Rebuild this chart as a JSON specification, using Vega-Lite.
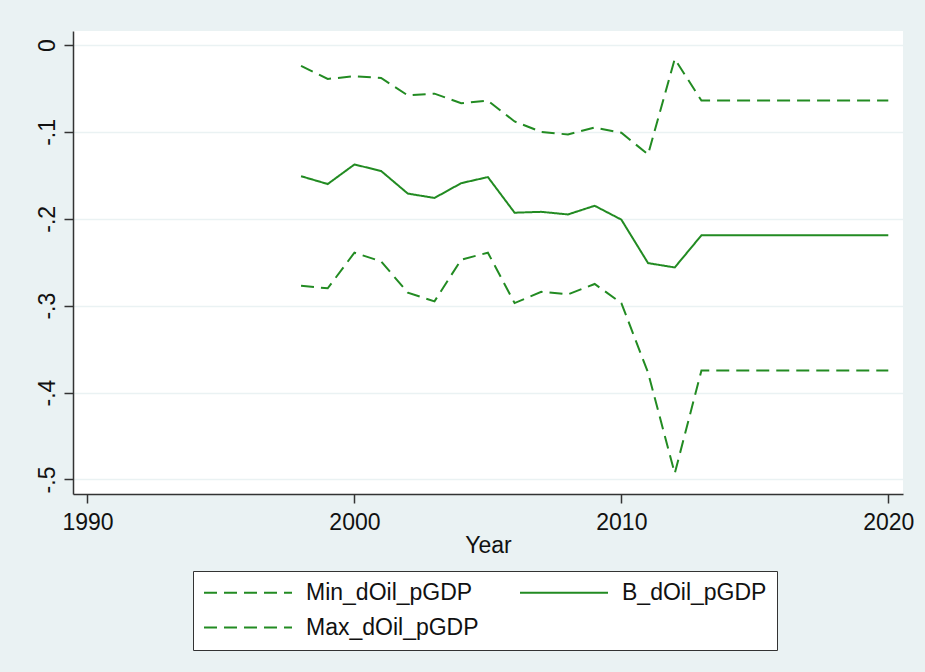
{
  "$schema": "https://vega.github.io/schema/vega-lite/v6.json",
  "width": 830,
  "height": 463,
  "autosize": {"type": "none"},
  "padding": {"left": 73, "top": 31, "right": 22, "bottom": 178},
  "background": "#EAF2F3",
  "config": {
    "view": {"fill": "white", "stroke": null},
    "font": "Liberation Sans, Arial, sans-serif"
  },
  "data": {
    "values": [
      {"year": 1998, "series": "Max_dOil_pGDP", "value": -0.024},
      {"year": 1999, "series": "Max_dOil_pGDP", "value": -0.039},
      {"year": 2000, "series": "Max_dOil_pGDP", "value": -0.036},
      {"year": 2001, "series": "Max_dOil_pGDP", "value": -0.038},
      {"year": 2002, "series": "Max_dOil_pGDP", "value": -0.058},
      {"year": 2003, "series": "Max_dOil_pGDP", "value": -0.056},
      {"year": 2004, "series": "Max_dOil_pGDP", "value": -0.067},
      {"year": 2005, "series": "Max_dOil_pGDP", "value": -0.064},
      {"year": 2006, "series": "Max_dOil_pGDP", "value": -0.088},
      {"year": 2007, "series": "Max_dOil_pGDP", "value": -0.100},
      {"year": 2008, "series": "Max_dOil_pGDP", "value": -0.103},
      {"year": 2009, "series": "Max_dOil_pGDP", "value": -0.095},
      {"year": 2010, "series": "Max_dOil_pGDP", "value": -0.101},
      {"year": 2011, "series": "Max_dOil_pGDP", "value": -0.126},
      {"year": 2012, "series": "Max_dOil_pGDP", "value": -0.016},
      {"year": 2013, "series": "Max_dOil_pGDP", "value": -0.064},
      {"year": 2014, "series": "Max_dOil_pGDP", "value": -0.064},
      {"year": 2015, "series": "Max_dOil_pGDP", "value": -0.064},
      {"year": 2016, "series": "Max_dOil_pGDP", "value": -0.064},
      {"year": 2017, "series": "Max_dOil_pGDP", "value": -0.064},
      {"year": 2018, "series": "Max_dOil_pGDP", "value": -0.064},
      {"year": 2019, "series": "Max_dOil_pGDP", "value": -0.064},
      {"year": 2020, "series": "Max_dOil_pGDP", "value": -0.064},
      {"year": 1998, "series": "B_dOil_pGDP", "value": -0.151},
      {"year": 1999, "series": "B_dOil_pGDP", "value": -0.160},
      {"year": 2000, "series": "B_dOil_pGDP", "value": -0.1375},
      {"year": 2001, "series": "B_dOil_pGDP", "value": -0.145},
      {"year": 2002, "series": "B_dOil_pGDP", "value": -0.171},
      {"year": 2003, "series": "B_dOil_pGDP", "value": -0.176},
      {"year": 2004, "series": "B_dOil_pGDP", "value": -0.159},
      {"year": 2005, "series": "B_dOil_pGDP", "value": -0.152},
      {"year": 2006, "series": "B_dOil_pGDP", "value": -0.193},
      {"year": 2007, "series": "B_dOil_pGDP", "value": -0.192},
      {"year": 2008, "series": "B_dOil_pGDP", "value": -0.195},
      {"year": 2009, "series": "B_dOil_pGDP", "value": -0.185},
      {"year": 2010, "series": "B_dOil_pGDP", "value": -0.201},
      {"year": 2011, "series": "B_dOil_pGDP", "value": -0.251},
      {"year": 2012, "series": "B_dOil_pGDP", "value": -0.256},
      {"year": 2013, "series": "B_dOil_pGDP", "value": -0.219},
      {"year": 2014, "series": "B_dOil_pGDP", "value": -0.219},
      {"year": 2015, "series": "B_dOil_pGDP", "value": -0.219},
      {"year": 2016, "series": "B_dOil_pGDP", "value": -0.219},
      {"year": 2017, "series": "B_dOil_pGDP", "value": -0.219},
      {"year": 2018, "series": "B_dOil_pGDP", "value": -0.219},
      {"year": 2019, "series": "B_dOil_pGDP", "value": -0.219},
      {"year": 2020, "series": "B_dOil_pGDP", "value": -0.219},
      {"year": 1998, "series": "Min_dOil_pGDP", "value": -0.277},
      {"year": 1999, "series": "Min_dOil_pGDP", "value": -0.280},
      {"year": 2000, "series": "Min_dOil_pGDP", "value": -0.239},
      {"year": 2001, "series": "Min_dOil_pGDP", "value": -0.249},
      {"year": 2002, "series": "Min_dOil_pGDP", "value": -0.285},
      {"year": 2003, "series": "Min_dOil_pGDP", "value": -0.295},
      {"year": 2004, "series": "Min_dOil_pGDP", "value": -0.247},
      {"year": 2005, "series": "Min_dOil_pGDP", "value": -0.239},
      {"year": 2006, "series": "Min_dOil_pGDP", "value": -0.297},
      {"year": 2007, "series": "Min_dOil_pGDP", "value": -0.284},
      {"year": 2008, "series": "Min_dOil_pGDP", "value": -0.287},
      {"year": 2009, "series": "Min_dOil_pGDP", "value": -0.275},
      {"year": 2010, "series": "Min_dOil_pGDP", "value": -0.297},
      {"year": 2011, "series": "Min_dOil_pGDP", "value": -0.377},
      {"year": 2012, "series": "Min_dOil_pGDP", "value": -0.493},
      {"year": 2013, "series": "Min_dOil_pGDP", "value": -0.3745},
      {"year": 2014, "series": "Min_dOil_pGDP", "value": -0.3745},
      {"year": 2015, "series": "Min_dOil_pGDP", "value": -0.3745},
      {"year": 2016, "series": "Min_dOil_pGDP", "value": -0.3745},
      {"year": 2017, "series": "Min_dOil_pGDP", "value": -0.3745},
      {"year": 2018, "series": "Min_dOil_pGDP", "value": -0.3745},
      {"year": 2019, "series": "Min_dOil_pGDP", "value": -0.3745},
      {"year": 2020, "series": "Min_dOil_pGDP", "value": -0.3745}
    ]
  },
  "mark": {"type": "line", "color": "#228B22", "strokeWidth": 2, "strokeCap": "butt"},
  "encoding": {
    "x": {
      "field": "year",
      "type": "quantitative",
      "scale": {"domain": [1989.457, 2020.551], "nice": false, "zero": false},
      "axis": {
        "values": [1990, 2000, 2010, 2020],
        "format": "d",
        "title": "Year",
        "grid": false,
        "labelFlush": false,
        "domainColor": "#333333",
        "domainWidth": 1.5,
        "tickColor": "#333333",
        "tickWidth": 1.5,
        "tickSize": 9,
        "labelFontSize": 23,
        "labelColor": "#111111",
        "labelPadding": 8,
        "titleFontSize": 23,
        "titleFontWeight": "normal",
        "titleColor": "#111111",
        "titlePadding": 0
      }
    },
    "y": {
      "field": "value",
      "type": "quantitative",
      "scale": {"domain": [-0.5167, 0.0161], "nice": false, "zero": false},
      "axis": {
        "values": [-0.5, -0.4, -0.3, -0.2, -0.1, 0],
        "labelExpr": "datum.value == 0 ? '0' : '-.' + format(round(abs(datum.value) * 10), 'd')",
        "title": null,
        "grid": true,
        "gridColor": "#EAF2F3",
        "gridWidth": 1.5,
        "domainColor": "#333333",
        "domainWidth": 1.5,
        "tickColor": "#333333",
        "tickWidth": 1.5,
        "tickSize": 9,
        "labelFontSize": 23,
        "labelColor": "#111111",
        "labelAngle": 270,
        "labelAlign": "center",
        "labelBaseline": "alphabetic",
        "labelPadding": 10
      }
    },
    "strokeDash": {
      "field": "series",
      "type": "nominal",
      "scale": {
        "domain": ["Min_dOil_pGDP", "B_dOil_pGDP", "Max_dOil_pGDP"],
        "range": [[13, 7], [1, 0], [13, 7]]
      },
      "legend": {
        "orient": "none",
        "legendX": 120,
        "legendY": 540,
        "title": null,
        "columns": 2,
        "direction": "horizontal",
        "symbolType": "stroke",
        "symbolSize": 7744,
        "symbolStrokeWidth": 2,
        "symbolStrokeColor": "#228B22",
        "clipHeight": 23,
        "labelFontSize": 23,
        "labelColor": "#111111",
        "labelOffset": 13,
        "labelLimit": 400,
        "rowPadding": 11,
        "columnPadding": 40,
        "padding": 10,
        "strokeColor": "#333333",
        "fillColor": "white",
        "encode": {
          "symbols": {
            "enter": {
              "strokeDash": {"signal": "datum.label === 'B_dOil_pGDP' ? '1,0' : '8,7'"}
            },
            "update": {
              "strokeDash": {"signal": "datum.label === 'B_dOil_pGDP' ? '1,0' : '8,7'"}
            }
          }
        }
      }
    }
  }
}
